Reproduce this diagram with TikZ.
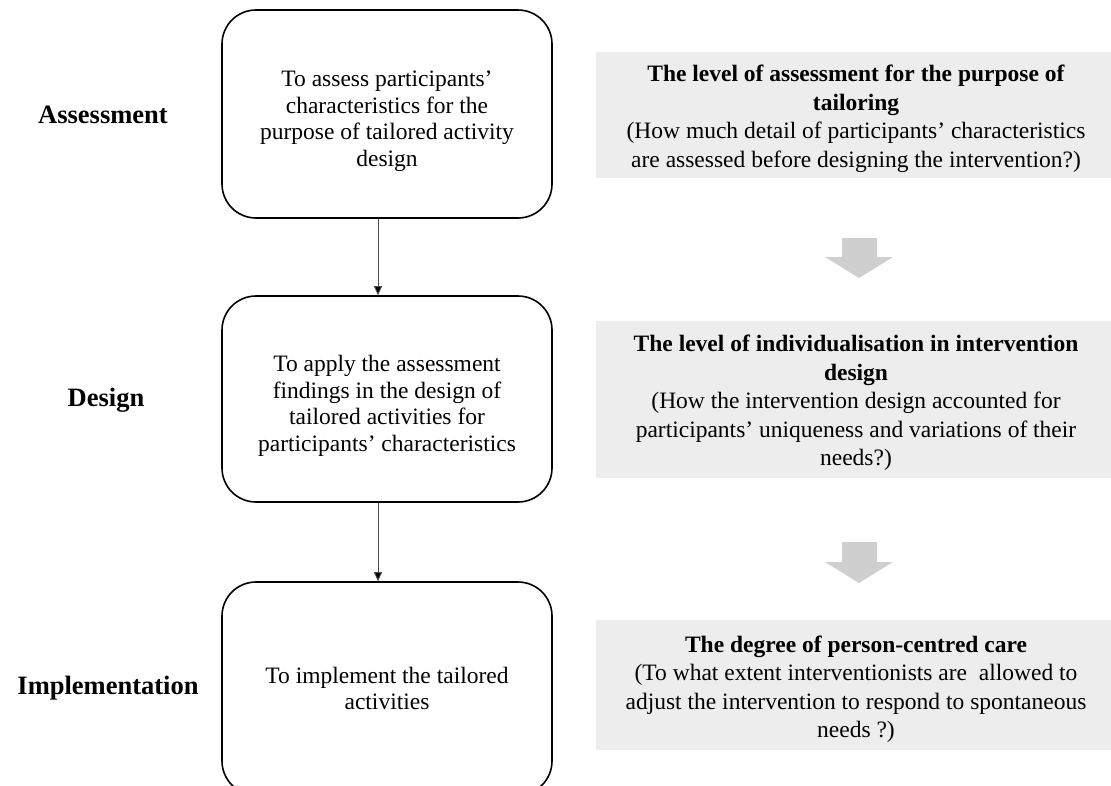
\documentclass[tikz,border=0pt]{standalone}
\usepackage{fontspec}
\setmainfont{Liberation Serif}
\usetikzlibrary{arrows.meta}
\definecolor{boxgray}{HTML}{EDEDED}
\definecolor{arrowgray}{HTML}{CFCFCF}
\begin{document}
\begin{tikzpicture}[x=1pt,y=-1pt,
  stagebox/.style={draw=black,line width=1.6pt,rounded corners=34pt,minimum width=330pt,inner sep=0pt},
  stagetext/.style={align=center,font=\fontsize{23.5}{26.5}\selectfont,inner sep=0pt},
  infobox/.style={fill=boxgray,minimum width=520pt,inner sep=0pt},
  infotext/.style={align=center,font=\fontsize{23.5}{28.5}\selectfont,inner sep=0pt},
  stagelabel/.style={font=\fontsize{26.5}{30}\selectfont\bfseries},
  flow/.style={draw=black!70,line width=0.9pt,-{Triangle[length=9pt,width=8pt,fill=black]}},
  bigarrow/.style={fill=arrowgray}]
\clip (0,0) rectangle (1111,785);

% stage boxes
\node[stagebox,minimum height=208pt] (b1) at (387,114) {};
\node[stagebox,minimum height=206pt] (b2) at (387,399) {};
\node[stagebox,minimum height=213pt] (b3) at (387,688.5) {};
\node[stagetext] (t1) at ([yshift=-7pt]b1.center) {To assess participants’\\characteristics for the\\purpose of tailored activity\\design};
\node[stagetext] (t2) at ([yshift=-7pt]b2.center) {To apply the assessment\\findings in the design of\\tailored activities for\\participants’ characteristics};
\node[stagetext] (t3) at ([yshift=0pt]b3.center) {To implement the tailored\\activities};

% connectors
\draw[flow] ([xshift=-9pt]b1.south) -- ([xshift=-9pt]b2.north);
\draw[flow] ([xshift=-9pt]b2.south) -- ([xshift=-9pt]b3.north);

% stage labels
\node[stagelabel] (l1) at (103,115) {Assessment};
\node[stagelabel] (l2) at (106,400) {Design};
\node[stagelabel] (l3) at (108,688) {Implementation};

% info boxes
\node[infobox,minimum height=126pt] (i1) at (856,115) {};
\node[infobox,minimum height=157pt] (i2) at (856,399.5) {};
\node[infobox,minimum height=130pt] (i3) at (856,685) {};
\node[infotext] (s1) at ([yshift=-4pt]i1.center) {\textbf{The level of assessment for the purpose of}\\\textbf{tailoring}\\(How much detail of participants’ characteristics\\are assessed before designing the intervention?)};
\node[infotext] (s2) at ([yshift=-3.5pt]i2.center) {\textbf{The level of individualisation in intervention}\\\textbf{design}\\(How the intervention design accounted for\\participants’ uniqueness and variations of their\\needs?)};
\node[infotext] (s3) at ([yshift=-4pt]i3.center) {\textbf{The degree of person-centred care}\\(To what extent interventionists are\ \ allowed to\\adjust the intervention to respond to spontaneous\\needs ?)};

% big gray arrows
\fill[bigarrow] (842,238) -- (877,238) -- (877,257) -- (893,257) -- (859,278) -- (825,257) -- (842,257) -- cycle;
\fill[bigarrow] (842,542) -- (877,542) -- (877,562) -- (893,562) -- (859,583) -- (825,562) -- (842,562) -- cycle;
\end{tikzpicture}
\end{document}
